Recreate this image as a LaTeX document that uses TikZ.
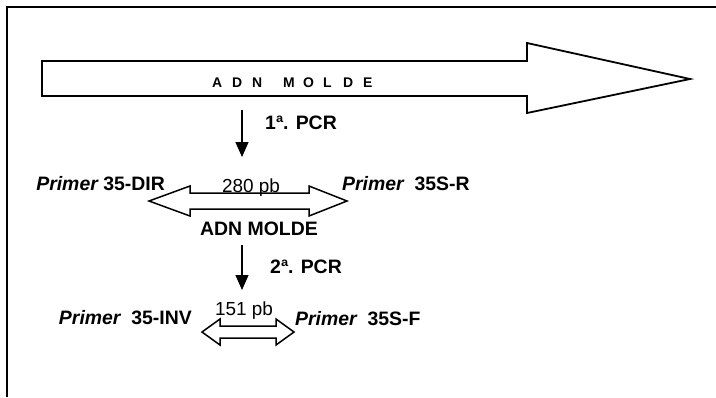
\documentclass[tikz,border=0pt]{standalone}
\usepackage{fontspec}
\setmainfont{Liberation Sans}
\usetikzlibrary{arrows.meta}
\newcommand{\lsp}[1]{\makebox[20bp][l]{#1}}
\tikzset{
  framel/.style={line width=1.3bp},
  outl/.style={line width=1.8bp, line join=miter},
  dbl/.style={line width=1.5bp, line join=miter},
  pcrarrow/.style={line width=1.3bp, -{Triangle[length=15bp,width=13bp]}},
  lbl/.style={inner sep=0pt, font=\fontsize{19.5}{23}\selectfont\bfseries},
  pbtext/.style={inner sep=0pt, font=\fontsize{19}{23}\selectfont},
  bigtxt/.style={inner sep=0pt, font=\fontsize{14}{16}\selectfont\bfseries},
}
\begin{document}
\begin{tikzpicture}[x=1bp,y=-1bp]
\useasboundingbox (0,0) rectangle (716,397);
% frame
\draw[framel] (7,397) -- (7,7) -- (716,7);
% big arrow
\draw[outl] (42,61) -- (527,61) -- (527,43) -- (690,79) -- (527,113) -- (527,96) -- (42,96) -- cycle;
\node[bigtxt, anchor=base west] (molde) at (212,87) {\lsp{A}\lsp{D}\lsp{N}\hspace{11bp}\lsp{M}\lsp{O}\lsp{L}\lsp{D}\lsp{E}};
% first PCR
\coordinate (a1s) at (242,110);
\coordinate (a1e) at (242,157);
\draw[pcrarrow] (a1s) -- (a1e);
\node[lbl, anchor=base west] (pcr1) at (265,129) {1ª. PCR};
% double arrow 1
\draw[dbl] (149,201) -- (190,186) -- (190,193) -- (309,193) -- (309,186) -- (347,201) -- (309,216) -- (309,209) -- (190,209) -- (190,216) -- cycle;
\node[lbl, anchor=base east] (dir) at (165,190) {\itshape Primer\upshape{} 35-DIR};
\node[pbtext, anchor=base] (s280) at (251,192) {280 pb};
\node[lbl, anchor=base west] (r) at (342,190) {\itshape Primer\upshape{}\ \ 35S-R};
\node[lbl, anchor=base] (molde2) at (259,235) {ADN MOLDE};
% second PCR
\coordinate (a2s) at (242,245);
\coordinate (a2e) at (242,290);
\draw[pcrarrow] (a2s) -- (a2e);
\node[lbl, anchor=base west] (pcr2) at (270,273) {2ª. PCR};
% double arrow 2
\draw[dbl] (202,332) -- (220,319) -- (220,326) -- (276,326) -- (276,319) -- (294,332) -- (276,345) -- (276,338) -- (220,338) -- (220,345) -- cycle;
\node[pbtext, anchor=base] (s151) at (244,315) {151 pb};
\node[lbl, anchor=base east] (inv) at (192,324) {\itshape Primer\upshape{}\ \ 35-INV};
\node[lbl, anchor=base west] (f) at (295,325) {\itshape Primer\upshape{}\ \ 35S-F};
\end{tikzpicture}
\end{document}
